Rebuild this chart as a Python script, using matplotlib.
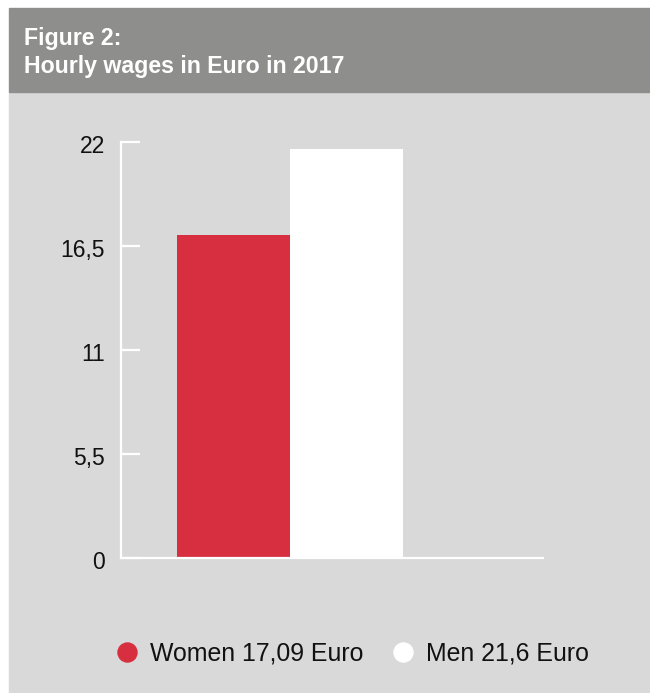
import matplotlib
matplotlib.use("Agg")
import matplotlib.pyplot as plt
from matplotlib.patches import Rectangle
from matplotlib.lines import Line2D
import matplotlib.transforms as mtransforms

# ---- data ----
categories = ["Women", "Men"]
values = [17.09, 21.6]
legend_labels = ["Women 17,09 Euro", "Men 21,6 Euro"]
yticks = [0, 5.5, 11, 16.5, 22]
ytick_labels = ["0", "5,5", "11", "16,5", "22"]
title_lines = ["Figure 2:", "Hourly wages in Euro in 2017"]

colors = ["#d72f3f", "#ffffff"]
panel_color = "#d9d9d9"
header_color = "#8e8f8d"

plt.rcParams['font.family'] = ['Liberation Sans', 'DejaVu Sans']

W, H = 650, 693
fig = plt.figure(figsize=(W / 100, H / 100), dpi=100, facecolor="white")

# background panel and header band
fig.patches.append(Rectangle((9 / W, 0), 1 - 9 / W, 1 - 92 / H,
                             transform=fig.transFigure, color=panel_color, zorder=-10))
fig.patches.append(Rectangle((9 / W, 1 - 92 / H), 1 - 9 / W, 84 / H,
                             transform=fig.transFigure, color=header_color, zorder=-10))

fig.text(24 / W, 1 - 45 / H, title_lines[0], color="white", fontsize=16.7,
         fontweight="bold", va="baseline", ha="left")
fig.text(24 / W, 1 - 72.7 / H, title_lines[1], color="white", fontsize=16.7,
         fontweight="bold", va="baseline", ha="left")

# axes
left, right = 121, 543
top, bottom = 141.7, 557.7
ax = fig.add_axes([left / W, 1 - bottom / H, (right - left) / W, (bottom - top) / H])
ax.set_facecolor("none")
ax.set_zorder(1)

xpos = list(range(len(categories)))
ax.bar(xpos, values, width=1.0, color=colors, zorder=2)

ax.set_xlim(-0.996, 2.739)
ax.set_ylim(0, 22)
ax.set_yticks(yticks)
ax.set_yticklabels(ytick_labels)
ax.set_xticks([])

for s in ["top", "right"]:
    ax.spines[s].set_visible(False)
for s in ["left", "bottom"]:
    ax.spines[s].set_color("white")
    ax.spines[s].set_linewidth(1.6)
    ax.spines[s].set_zorder(3)

ax.tick_params(axis="y", direction="in", length=13.7, width=1.6, color="white",
               pad=11.5, labelsize=16.5, labelcolor="#111111")

# nudge tick labels slightly downward as in the reference
offset = mtransforms.ScaledTranslation(0, -2.5 / 100, fig.dpi_scale_trans)
for lbl in ax.get_yticklabels():
    lbl.set_transform(lbl.get_transform() + offset)

# legend
handles = [Line2D([], [], linestyle="none", marker="o", markersize=13.7,
                  markerfacecolor=c, markeredgecolor=c) for c in colors]
fig.legend(handles, legend_labels, loc="center left",
           bbox_to_anchor=(114.4 / W, 1 - 654 / H), ncol=2, frameon=False,
           fontsize=17.9, handlelength=1.0, handletextpad=0.44,
           columnspacing=1.08, borderpad=0, borderaxespad=0,
           labelcolor="#111111")

fig.savefig("out.png", dpi=100, facecolor="white")
